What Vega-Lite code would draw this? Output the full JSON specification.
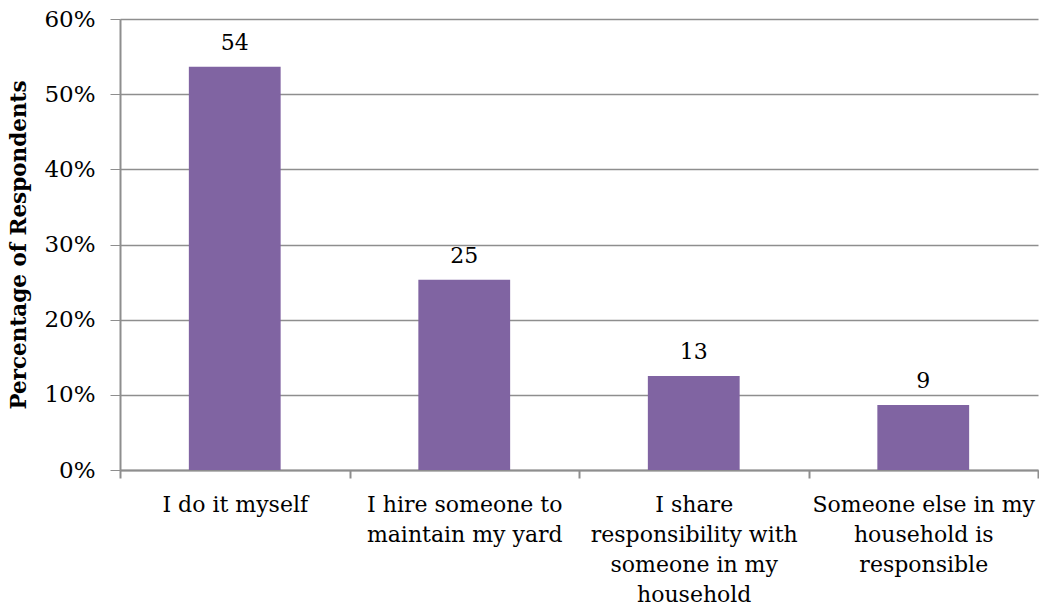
{
  "$schema": "https://vega.github.io/schema/vega-lite/v6.json",
  "autosize": {"type": "none"},
  "padding": {"left": 120, "top": 19, "right": 1, "bottom": 142},
  "width": 918,
  "height": 451,
  "background": "white",
  "config": {
    "view": {"stroke": null},
    "font": "DejaVu Serif"
  },
  "data": {
    "values": [
      {"response": "I do it myself", "percent": 53.65},
      {"response": "I hire someone to maintain my yard", "percent": 25.3},
      {"response": "I share responsibility with someone in my household", "percent": 12.5},
      {"response": "Someone else in my household is responsible", "percent": 8.65}
    ]
  },
  "encoding": {
    "x": {
      "field": "response",
      "type": "nominal",
      "sort": null,
      "scale": {"paddingInner": 0, "paddingOuter": 0},
      "axis": {
        "title": null,
        "labelAngle": 0,
        "tickBand": "extent",
        "labelFont": "DejaVu Serif",
        "labelFontSize": 22,
        "labelColor": "black",
        "labelLineHeight": 30,
        "labelPadding": 16,
        "labelBaseline": "top",
        "labelLimit": 0,
        "tickSize": 8,
        "tickColor": "#8E8E8E",
        "domainColor": "#8E8E8E",
        "tickWidth": 2,
        "domainWidth": 2,
        "labelExpr": "datum.value == 'I hire someone to maintain my yard' ? ['I hire someone to', 'maintain my yard'] : datum.value == 'I share responsibility with someone in my household' ? ['I share', 'responsibility with', 'someone in my', 'household'] : datum.value == 'Someone else in my household is responsible' ? ['Someone else in my', 'household is', 'responsible'] : datum.value"
      }
    },
    "y": {
      "field": "percent",
      "type": "quantitative",
      "scale": {"domain": [0, 60], "nice": false},
      "axis": {
        "title": "Percentage of Respondents",
        "titleFont": "DejaVu Serif",
        "titleFontSize": 21.5,
        "titleFontWeight": "bold",
        "titleColor": "black",
        "titlePadding": 13,
        "values": [0, 10, 20, 30, 40, 50, 60],
        "labelExpr": "datum.value + '%'",
        "labelFont": "DejaVu Serif",
        "labelFontSize": 23,
        "labelColor": "black",
        "labelPadding": 15,
        "tickSize": 10,
        "tickColor": "#8E8E8E",
        "domainColor": "#8E8E8E",
        "domainWidth": 2,
        "gridColor": "#8E8E8E",
        "gridWidth": 1.5
      }
    }
  },
  "layer": [
    {"mark": {"type": "bar", "color": "#8064A2", "width": {"band": 0.4}}},
    {
      "mark": {"type": "text", "dy": -12, "fontSize": 22, "font": "DejaVu Serif", "color": "black", "baseline": "bottom"},
      "encoding": {"text": {"field": "percent", "type": "quantitative", "format": ".0f"}}
    }
  ]
}
